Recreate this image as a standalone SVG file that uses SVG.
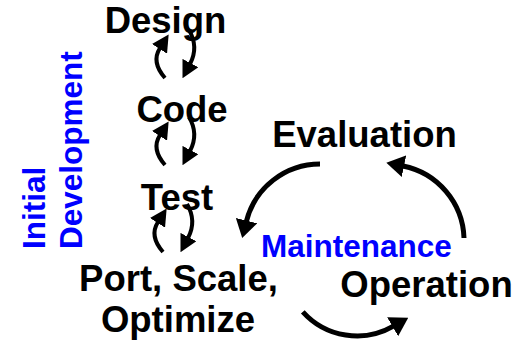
<svg xmlns="http://www.w3.org/2000/svg" width="528" height="343" viewBox="0 0 528 343">
<style>
.lbl{font-family:"Liberation Sans",Arial,sans-serif;font-weight:bold;font-size:36.5px;fill:#000;text-anchor:middle}
.blue{font-family:"Liberation Sans",Arial,sans-serif;font-weight:bold;font-size:31.5px;fill:#0000ff}
.big{fill:none;stroke:#000;stroke-width:5;marker-end:url(#bh)}
.sm{fill:none;stroke:#000;stroke-width:4;marker-end:url(#sh)}
</style>
<defs>
<marker id="bh" markerUnits="userSpaceOnUse" markerWidth="18" markerHeight="22" viewBox="0 0 18 22" refX="1" refY="11" orient="auto"><path d="M0,0 L18,11 L0,22 z" fill="#000"/></marker>
<marker id="sh" markerUnits="userSpaceOnUse" markerWidth="17" markerHeight="18" viewBox="0 0 17 18" refX="1" refY="9" orient="auto"><path d="M0,0 L17,9 L0,18 z" fill="#000"/></marker>
<g id="pair">
<path class="sm" d="M165,78 Q151,62 160,48"/>
<path class="sm" d="M189,30 Q199,47 190,64"/>
</g>
</defs>
<g id="initial-development">
<text class="blue" transform="translate(45,249) rotate(-90)">Initial</text>
<text class="blue" transform="translate(82,249) rotate(-90)">Development</text>
</g>
<g id="design"><text class="lbl" x="165.5" y="33">Design</text></g>
<g id="code"><text class="lbl" x="182" y="122">Code</text></g>
<g id="test"><text class="lbl" x="177" y="210">Test</text></g>
<g id="port"><text class="lbl" x="178.5" y="291">Port, Scale,</text><text class="lbl" x="178" y="332">Optimize</text></g>
<g id="evaluation"><text class="lbl" x="364.5" y="147">Evaluation</text></g>
<g id="operation"><text class="lbl" x="426.5" y="297">Operation</text></g>
<g id="maintenance"><text class="blue" x="356.5" y="257" text-anchor="middle">Maintenance</text></g>
<g id="connectors">
<use href="#pair"/>
<use href="#pair" transform="translate(0,87)"/>
<use href="#pair" transform="translate(-2,174)"/>
<path class="big" d="M320,164 A76,76 0 0 0 246.3,221.6"/>
<path class="big" d="M464,238 A76,76 0 0 0 403,166"/>
<path class="big" d="M302.8,311.8 A73,73 0 0 0 393.5,326.2"/>
</g>
</svg>
